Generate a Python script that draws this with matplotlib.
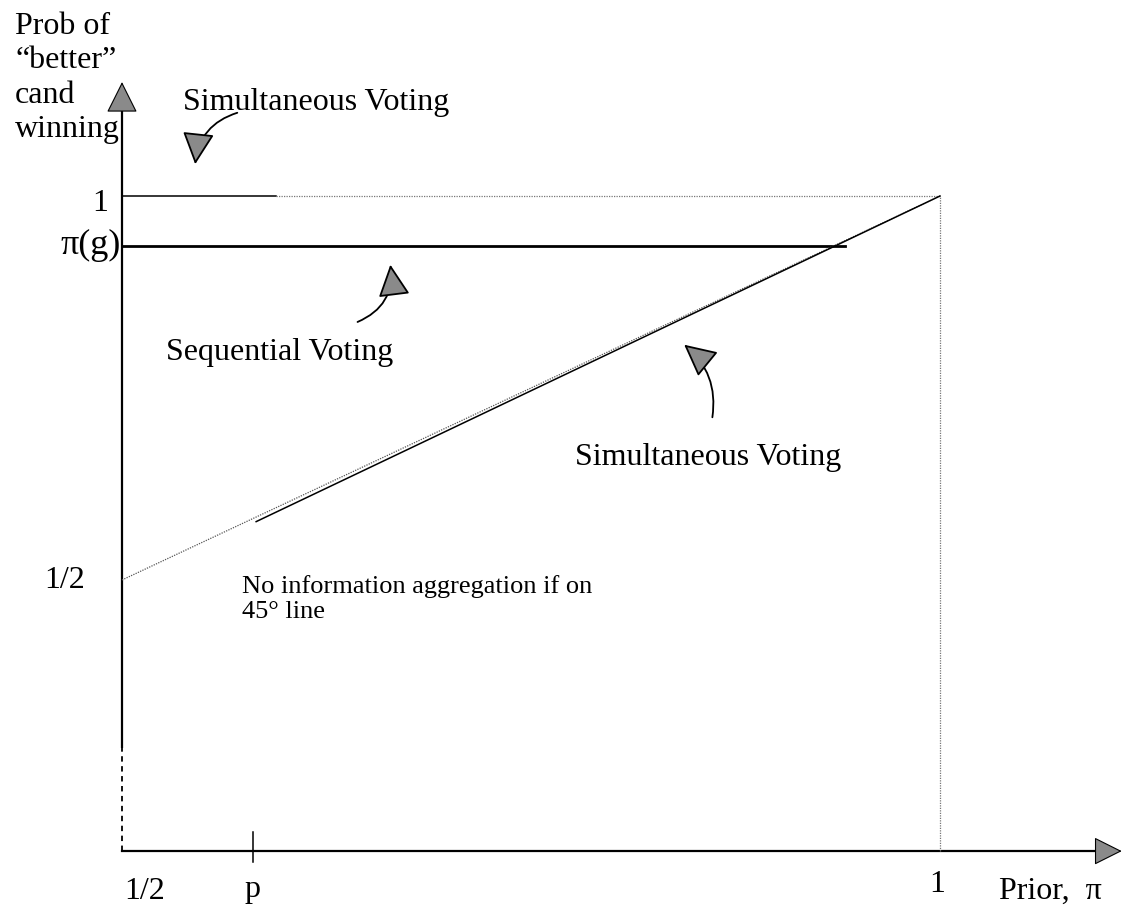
import matplotlib
matplotlib.use("Agg")
import matplotlib.pyplot as plt
from matplotlib.patches import FancyArrowPatch

# ---- data (read from the schematic) ----
prior_range = [0.5, 1.0]          # x from 1/2 to 1
diag_line = [0.5, 1.0]            # 45-degree line: prob = prior
pi_g = 0.935                      # sequential voting level pi(g)
pi_g_end = 0.942                  # where the pi(g) line stops
p_val = 0.58                      # the point p on the prior axis
simul_solid_end = 0.594           # solid part of the line at 1
diag_solid_start = 0.582          # solid part of the 45-degree line
axis_y0 = 0.147                   # height of the horizontal axis
axis_dash_top = 0.281             # top of the dashed part of vertical axis
x_tick_labels = ["1/2", "p", "1"]
y_tick_labels = ["1", "π(g)", "1/2"]

plt.rcParams['font.family'] = ['Liberation Serif', 'DejaVu Serif']

fig = plt.figure(figsize=(11.25, 9.21), dpi=100)
ax = fig.add_axes([0, 0, 1, 1])
ax.set_xlim(0.42543, 1.11308)
ax.set_ylim(0.05599, 1.25521)
ax.axis('off')

# axes
ax.plot([0.5, 0.5], [axis_dash_top, 1.13], color='black', lw=1.6, solid_capstyle='butt')
ax.plot([0.5, 0.5], [axis_y0, axis_dash_top], color='black', lw=1.3, ls=(0, (3, 2.5)))
ax.plot([0.5, 1.095], [axis_y0, axis_y0], color='black', lw=1.6)
# axis arrowheads
ax.annotate('', xy=(0.5, 1.152), xytext=(0.5, 1.12),
            arrowprops=dict(arrowstyle='-|>,head_length=1.0,head_width=0.5',
                            mutation_scale=20, facecolor='#8a8a8a', edgecolor='black', lw=0.8))
ax.annotate('', xy=(1.1128, axis_y0), xytext=(1.09, axis_y0),
            arrowprops=dict(arrowstyle='-|>,head_length=0.9,head_width=0.45',
                            mutation_scale=20, facecolor='#8a8a8a', edgecolor='black', lw=0.8))

# line at 1 (simultaneous voting) : solid then dotted
ax.plot([0.5, simul_solid_end], [1.0, 1.0], color='black', lw=1.1)
ax.plot([simul_solid_end, 1.0], [1.0, 1.0], color='#777777', lw=0.9, ls=(0, (1, 1)))
# dotted vertical at prior = 1
ax.plot([1.0, 1.0], [axis_y0, 1.0], color='#777777', lw=0.9, ls=(0, (1, 1)))

# pi(g) line
ax.plot([0.5, pi_g_end], [pi_g, pi_g], color='black', lw=2.0)

# 45-degree line
ax.plot(prior_range, diag_line, color='#555555', lw=0.9, ls=(0, (1, 1)))
ax.plot([diag_solid_start, diag_line[1]], [diag_solid_start - 0.006, diag_line[1]],
        color='black', lw=1.1)

# p tick
ax.plot([p_val, p_val], [0.133, 0.172], color='black', lw=1.1)

# tick labels
fs = 23
ax.text(0.4914, 0.99, y_tick_labels[0], ha='right', va='center', fontsize=fs)
ax.text(0.4995, pi_g, y_tick_labels[1], ha='right', va='center', fontsize=26)
ax.text(0.4774, 0.5, y_tick_labels[2], ha='right', va='center', fontsize=fs)
ax.text(0.514, 0.094, x_tick_labels[0], ha='center', va='center', fontsize=fs)
ax.text(p_val, 0.097, x_tick_labels[1], ha='center', va='center', fontsize=fs)
ax.text(0.998, 0.103, x_tick_labels[2], ha='center', va='center', fontsize=fs)
ax.text(1.0672, 0.094, "Prior,  π", ha='center', va='center', fontsize=fs)

ax.text(0.4346, 1.2396, "Prob of\n\u201cbetter\u201d\ncand\nwinning", ha='left', va='top',
        fontsize=fs, linespacing=1.24)

# annotations
ax.text(0.6186, 1.1211, "Simultaneous Voting", ha='center', va='center', fontsize=fs)
ax.text(0.5966, 0.7956, "Sequential Voting", ha='center', va='center', fontsize=fs)
ax.text(0.8582, 0.6589, "Simultaneous Voting", ha='center', va='center', fontsize=fs)
ax.text(0.5733, 0.507, "No information aggregation if on\n45° line", ha='left', va='top',
        fontsize=19, linespacing=1.2)

arrow_kw = dict(arrowstyle='-|>,head_length=1.0,head_width=0.5', mutation_scale=20,
                facecolor='#8a8a8a', edgecolor='black', lw=1.3)
a1 = FancyArrowPatch((0.5721, 1.1094), (0.5446, 1.0378), connectionstyle='arc3,rad=0.35', **arrow_kw)
a2 = FancyArrowPatch((0.6424, 0.8346), (0.6638, 0.9141), connectionstyle='arc3,rad=0.4', **arrow_kw)
a3 = FancyArrowPatch((0.8606, 0.7083), (0.8423, 0.8086), connectionstyle='arc3,rad=0.3', **arrow_kw)
for a in (a1, a2, a3):
    ax.add_patch(a)

fig.savefig("out.png", dpi=100, facecolor='white')
